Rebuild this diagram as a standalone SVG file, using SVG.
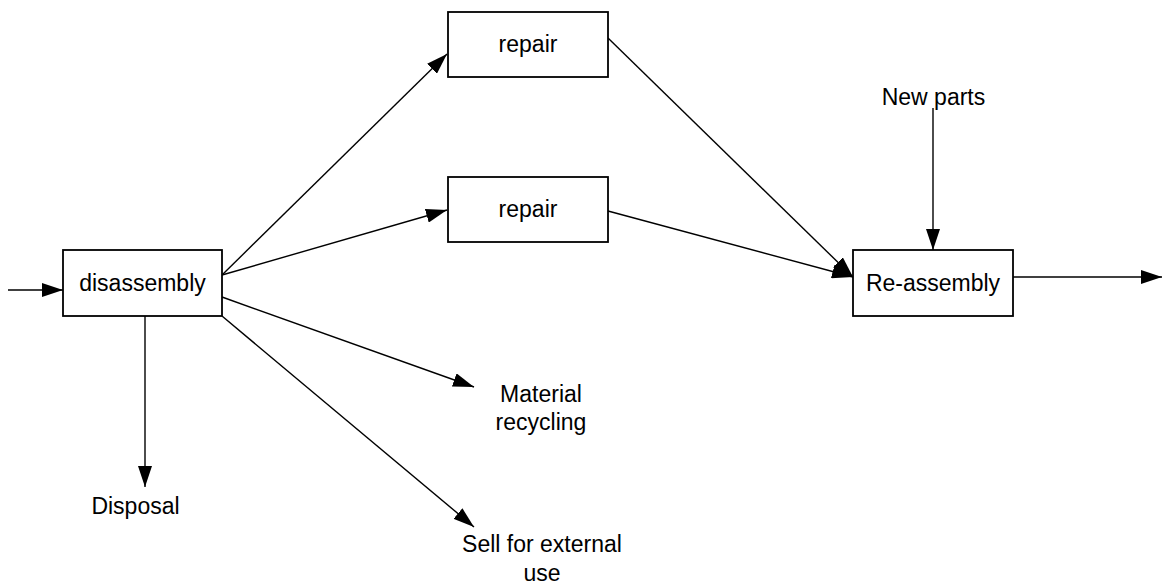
<svg xmlns="http://www.w3.org/2000/svg" width="1164" height="585" viewBox="0 0 1164 585">
<style>
.box{fill:#fff;stroke:#000;stroke-width:1.8}
.t{font-family:"Liberation Sans",Arial,sans-serif;font-size:23px;fill:#000;text-anchor:middle}
.c{stroke:#000;stroke-width:1.4;fill:none;marker-end:url(#ah)}
</style>
<defs>
<marker id="ah" markerWidth="21" markerHeight="14" refX="21" refY="7" orient="auto" markerUnits="userSpaceOnUse">
<path d="M0,0 L21,7 L0,14 Z" fill="#000"/>
</marker>
</defs>
<rect width="1164" height="585" fill="#fff"/>
<g id="connectors">
<line class="c" x1="8" y1="290" x2="63" y2="290"/>
<line class="c" x1="222" y1="275" x2="447" y2="54"/>
<line class="c" x1="222" y1="275" x2="447" y2="210"/>
<line class="c" x1="222" y1="297" x2="474" y2="387"/>
<line class="c" x1="222" y1="316" x2="474" y2="527"/>
<line class="c" x1="145" y1="316" x2="145" y2="487"/>
<line class="c" x1="608" y1="38" x2="853" y2="277"/>
<line class="c" x1="608" y1="211" x2="853" y2="277"/>
<line class="c" x1="933" y1="108" x2="933" y2="250"/>
<line class="c" x1="1013" y1="277" x2="1162" y2="277"/>
</g>
<g id="disassembly"><rect class="box" x="63" y="250" width="159" height="66"/><text class="t" x="142.5" y="291">disassembly</text></g>
<g id="repair1"><rect class="box" x="448" y="12" width="160" height="65"/><text class="t" x="528" y="52">repair</text></g>
<g id="repair2"><rect class="box" x="448" y="177" width="160" height="65"/><text class="t" x="528" y="217">repair</text></g>
<g id="reassembly"><rect class="box" x="853" y="250" width="160" height="66"/><text class="t" x="933" y="291">Re-assembly</text></g>
<g id="newparts"><text class="t" x="933.5" y="105">New parts</text></g>
<g id="recycling"><text class="t" x="541" y="402">Material</text><text class="t" x="541" y="430">recycling</text></g>
<g id="sell"><text class="t" x="542" y="552">Sell for external</text><text class="t" x="542" y="581">use</text></g>
<g id="disposal"><text class="t" x="135.5" y="514">Disposal</text></g>
</svg>
